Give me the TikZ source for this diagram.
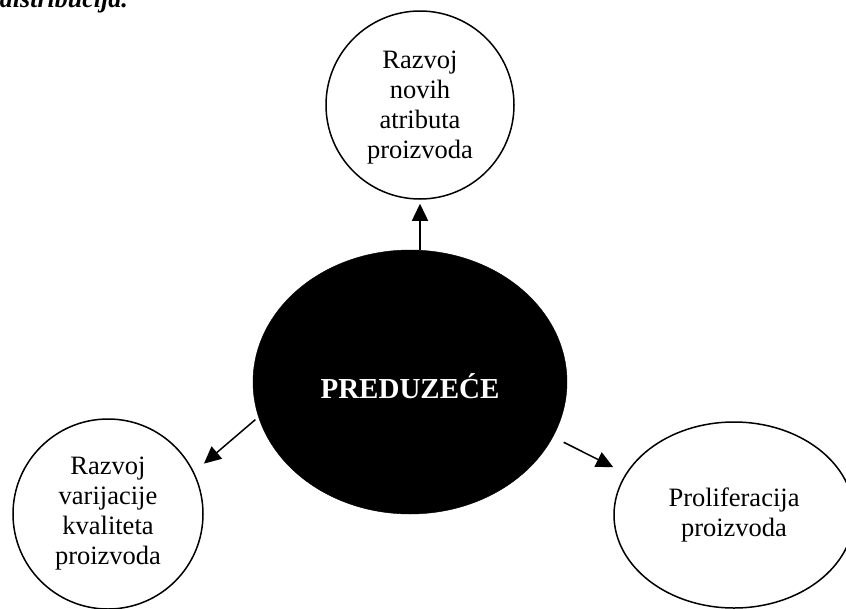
\documentclass[tikz,border=0pt]{standalone}
\usepackage{fontspec}
\setmainfont{Liberation Serif}
\usetikzlibrary{shapes.geometric,arrows.meta}
\begin{document}
\begin{tikzpicture}[x=1pt,y=-1pt,
  bubble/.style={draw=black,line width=1.5pt,fill=white,inner sep=0pt,
    align=center,font=\fontsize{26.5}{30}\selectfont},
  txt/.style={inner sep=0pt,align=center,font=\fontsize{26.5}{30}\selectfont},
  core/.style={ellipse,fill=black,draw=black,inner sep=0pt,
    minimum width=314pt,minimum height=264pt},
  coretxt/.style={inner sep=0pt,text=white,font=\fontsize{29}{32}\selectfont\bfseries},
  arr/.style={line width=1.5pt,-{Triangle[length=17pt,width=16pt]}},
  frag/.style={anchor=base east,inner sep=0pt,font=\fontsize{26}{30}\selectfont\bfseries\itshape}]
\clip (0,0) rectangle (846,608);
\fill[white] (0,0) rectangle (846,608);
\node[frag] (fr) at (128,7) {distribucija.};
\node[core] (c) at (410,382) {};
\node[coretxt] (ct) at ([yshift=-4pt]c.center) {PREDUZEĆE};
\node[bubble,circle,minimum size=188pt] (t) at (420,105) {};
\node[txt] (tt) at ([yshift=-3pt]t.center) {Razvoj\\novih\\atributa\\proizvoda};
\node[bubble,circle,minimum size=190pt] (l) at (108,514) {Razvoj\\varijacije\\kvaliteta\\proizvoda};
\node[bubble,ellipse,minimum width=240pt,minimum height=186pt] (r) at (734,515) {Proliferacija\\proizvoda};
\draw[arr,shorten >=4pt] (c.north -| t.south) -- (t.south);
\draw[arr,shorten <=4pt,shorten >=13pt] (c.193) -- (l.26);
\draw[arr,shorten <=12pt,shorten >=14pt] (c.-21) -- (r.159);
\end{tikzpicture}
\end{document}
